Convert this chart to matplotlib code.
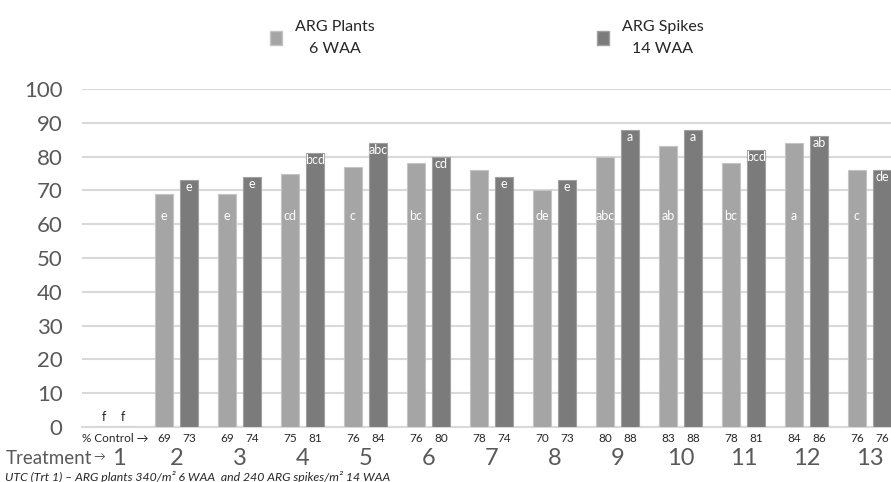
import matplotlib.pyplot as plt
from matplotlib.patches import Patch
from matplotlib.transforms import ScaledTranslation
import numpy as np

plt.rcParams["font.family"] = ["Lato", "DejaVu Sans"]

# data
treatments = [str(i) for i in range(1, 14)]
plants_6waa = [0, 69, 69, 75, 77, 78, 76, 70, 80, 83, 78, 84, 76]
spikes_14waa = [0, 73, 74, 81, 84, 80, 74, 73, 88, 88, 82, 86, 76]
plants_letters = ["f", "e", "e", "cd", "c", "bc", "c", "de", "abc", "ab", "bc", "a", "c"]
spikes_letters = ["f", "e", "e", "bcd", "abc", "cd", "e", "e", "a", "a", "bcd", "ab", "de"]
pct_plants = ["", "69", "69", "75", "76", "76", "78", "70", "80", "83", "78", "84", "76"]
pct_spikes = ["", "73", "74", "81", "84", "80", "74", "73", "88", "88", "81", "86", "76"]

light = "#a5a5a5"
dark = "#7b7b7b"
grey_txt = "#595959"

fig = plt.figure(figsize=(8.91, 4.82), dpi=100)
ax = fig.add_axes([82 / 891, 55 / 482, 819 / 891, 338 / 482])

x = np.arange(1, 14)
off = 0.2
w = 0.29
ax.bar(x - off, plants_6waa, w, color=light, edgecolor="#c4c4c4", linewidth=0.8, zorder=3)
ax.bar(x + off, spikes_14waa, w, color=dark, edgecolor="#a0a0a0", linewidth=0.8, zorder=3)

# significance letters
for xi, v, s in zip(x, plants_6waa, plants_letters):
    if v == 0:
        ax.text(xi - 0.15, 3, s, ha="center", va="center", fontsize=9, color="#262626")
    else:
        ax.text(xi - off, 62.5, s, ha="center", va="center", fontsize=9, color="white", zorder=4)
for xi, v, s in zip(x, spikes_14waa, spikes_letters):
    if v == 0:
        ax.text(xi + 0.15, 3, s, ha="center", va="center", fontsize=9, color="#262626")
    else:
        ax.text(xi + off, v - 2.1, s, ha="center", va="center", fontsize=9, color="white", zorder=4)

# % control row
tr = ax.get_xaxis_transform()
for xi, a, b in zip(x, pct_plants, pct_spikes):
    ax.text(xi - off, -0.033, a, transform=tr, ha="center", va="center", fontsize=8.5, color="#262626")
    ax.text(xi + off, -0.033, b, transform=tr, ha="center", va="center", fontsize=8.5, color="#262626")
ax.text(1.55, -0.033, "% Control \u2192", transform=tr, ha="right", va="center",
        fontsize=8.5, color="#262626")

ax.set_xlim(0.5, 13.5)
ax.set_ylim(0, 100)
ax.set_yticks(np.arange(0, 101, 10))
ax.set_xticks(x)
ax.set_xticklabels(treatments)
ax.tick_params(axis="y", length=0, pad=14, labelsize=16, labelcolor=grey_txt)
ax.tick_params(axis="x", length=0, pad=15, labelsize=17, labelcolor=grey_txt)
first = ax.get_xticklabels()[0]
first.set_transform(first.get_transform() + ScaledTranslation(0.05, 0, fig.dpi_scale_trans))
ax.grid(axis="y", color="#d9d9d9", linewidth=1.5, zorder=0)
for s in ["top", "right", "left"]:
    ax.spines[s].set_visible(False)
ax.spines["bottom"].set_color("#d9d9d9")
ax.spines["bottom"].set_linewidth(1.5)

fig.text(6 / 891, 1 - 458 / 482, "Treatment", ha="left", va="center",
         fontsize=13.5, color=grey_txt)
fig.text(93 / 891, 1 - 457 / 482, "\u2192", ha="left", va="center",
         fontsize=8.5, color=grey_txt)
fig.text(5 / 891, 1 - 477 / 482,
         "UTC (Trt 1) \u2013 ARG plants 340/m\u00b2 6 WAA  and 240 ARG spikes/m\u00b2 14 WAA",
         ha="left", va="center", fontsize=8.8, style="italic", color="#262626")

# legend
leg_kw = dict(frameon=False, fontsize=11.5, handlelength=0.75, handleheight=1.0,
              handletextpad=0.8, loc="center left", labelcolor="#262626")
l1 = fig.legend(handles=[Patch(color=light, ec="#c4c4c4")], labels=["ARG Plants\n6 WAA"],
                bbox_to_anchor=(256 / 891, 1 - 38 / 482), **leg_kw)
l2 = fig.legend(handles=[Patch(color=dark, ec="#a0a0a0")], labels=["ARG Spikes\n14 WAA"],
                bbox_to_anchor=(583 / 891, 1 - 38 / 482), **leg_kw)
for lg in (l1, l2):
    for t in lg.get_texts():
        t.set_multialignment("center")
        t.set_linespacing(1.8)

fig.savefig("out.png", dpi=100)
